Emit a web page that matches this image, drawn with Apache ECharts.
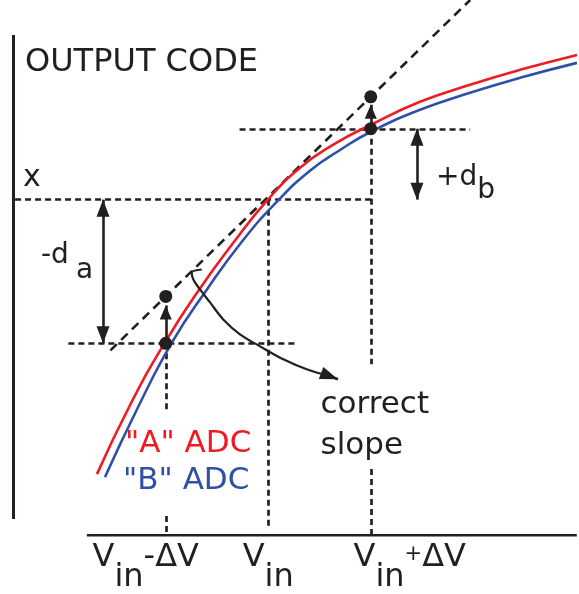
<!DOCTYPE html>
<html><head><meta charset="utf-8">
<script src="https://cdn.jsdelivr.net/npm/echarts@6/dist/echarts.min.js"></script>
<style>html,body{margin:0;padding:0;background:#fff}#c{width:579px;height:594px}</style>
</head><body><div id="c"></div>
<script>
// ---------- data (x in units of ΔV with Vin = 2.5, y in output-code units) ----------
const tickValues = [1.5, 2.5, 3.5];
const tickLabels = ['{v|V}{s|in}{v|-ΔV}', '{v|V}{s|in}', '{v|V}{s|in}{p|+}{v|ΔV}'];
const adcA = [[0.829,0.61],[1.151,1.30],[1.493,1.93],[1.834,2.47],[2.176,2.95],[2.488,3.35],[2.810,3.68],[3.151,3.92],[3.502,4.11],[3.980,4.34],[4.468,4.51],[4.956,4.66],[5.512,4.81]];
const adcB = [[0.907,0.58],[1.220,1.26],[1.561,1.93],[1.902,2.46],[2.244,2.94],[2.576,3.33],[2.907,3.65],[3.220,3.87],[3.502,4.04],[3.980,4.26],[4.468,4.43],[4.956,4.58],[5.512,4.73]];
const tangent = [[0.96,1.85],[4.47,5.36]];
const axisSegments = [[[0.01,0.16],[0.01,5.01]], [[0.73,0],[5.51,0]]];
const guideSegments = [
  [[0.03,3.36],[3.54,3.36]], [[0.55,1.92],[2.79,1.92]], [[2.22,4.07],[4.47,4.07]],
  [[1.5,1.92],[1.5,1.24]], [[1.5,0.19],[1.5,0]], [[2.5,3.36],[2.5,0.06]],
  [[3.5,4.07],[3.5,1.71]], [[3.5,0.66],[3.5,0]]
];
const dots = [[1.5,1.92],[1.5,2.39],[3.5,4.07],[3.5,4.39]];
const doubleArrows = [[[0.888,3.36],[0.888,1.92]], [[3.951,4.07],[3.951,3.36]]];
const upArrows = [[[1.5,1.92],[1.5,2.30]], [[3.5,4.07],[3.5,4.31]]];
const slopeCurve = [[1.851,2.66],[1.753,2.63],[1.769,2.56],[1.834,2.46],[1.932,2.33],[2.061,2.16],[2.224,2.01],[2.42,1.89],[2.647,1.76],[2.875,1.66],[3.102,1.59]];
const slopeHead = [[3.102,1.59],[3.18,1.56]];

// ---------- styling ----------
const BLACK = '#231F20', RED = '#ED1C24', BLUE = '#3050A8';
const FONT = '"DejaVu Sans", sans-serif';

function arrowItem(seg, both, size) {
  const end = (c, sym) => ({coord: c, symbol: sym, symbolSize: size, symbolOffset: [0, '50%'], symbolRotate: null});
  return [end(seg[0], both ? 'triangle' : 'none'), end(seg[1], 'triangle')];
}

const chart = echarts.init(document.getElementById('c'), null, {renderer: 'canvas'});
chart.setOption({
  animation: false,
  backgroundColor: '#fff',
  grid: {left: 12, top: 0, width: 565.8, height: 536},
  xAxis: {
    type: 'value', min: 0, max: 5.52, interval: 0.5,
    axisLine: {show: false}, axisTick: {show: false}, splitLine: {show: false},
    axisLabel: {
      show: true, margin: 7, showMinLabel: true, showMaxLabel: false,
      formatter: function (v) {
        const i = tickValues.findIndex(t => Math.abs(t - v) < 1e-6);
        if (i < 0) return '';
        let s = tickLabels[i];
        if (i === 0) s = s + '{gr| }';
        if (i === 2) s = '{gl| }' + s;
        return s;
      },
      rich: {
        v: {fontSize: 32, fontFamily: FONT, color: BLACK, lineHeight: 32, verticalAlign: 'top'},
        s: {fontSize: 32, fontFamily: FONT, color: BLACK, lineHeight: 32, verticalAlign: 'top', padding: [20, 0, 0, 0]},
        p: {fontSize: 21, fontFamily: FONT, color: BLACK, lineHeight: 21, verticalAlign: 'top', padding: [2, 0, 0, 0]},
        gr: {width: 40, fontSize: 10, verticalAlign: 'top'},
        gl: {width: 78, fontSize: 10, verticalAlign: 'top'}
      }
    }
  },
  yAxis: {type: 'value', min: 0, max: 5.36, show: false},
  series: [
    {type: 'lines', coordinateSystem: 'cartesian2d', silent: true, z: 2,
     lineStyle: {color: BLACK, width: 2.7, type: [6, 4], opacity: 1, curveness: 0},
     data: guideSegments.map(s => ({coords: s}))},
    {type: 'line', silent: true, z: 2, showSymbol: false, symbol: 'none', clip: false,
     lineStyle: {color: BLACK, width: 2.6, type: [9, 6]}, data: tangent},
    {type: 'lines', coordinateSystem: 'cartesian2d', silent: true, z: 3,
     lineStyle: {color: BLACK, width: 3, type: 'solid', opacity: 1, curveness: 0},
     data: axisSegments.map(s => ({coords: s}))},
    {type: 'line', name: '"A" ADC', silent: true, z: 4, showSymbol: false, symbol: 'none', clip: false,
     smooth: 0.5, lineStyle: {color: RED, width: 2.6}, data: adcA},
    {type: 'line', name: '"B" ADC', silent: true, z: 4, showSymbol: false, symbol: 'none', clip: false,
     smooth: 0.5, lineStyle: {color: BLUE, width: 2.6}, data: adcB},
    {type: 'line', silent: true, z: 5, showSymbol: false, symbol: 'none', clip: false,
     smooth: 0.35, lineStyle: {color: BLACK, width: 2.2}, data: slopeCurve},
    {type: 'scatter', silent: true, z: 6, symbol: 'circle', symbolSize: 13,
     itemStyle: {color: BLACK, opacity: 1}, data: dots,
     markLine: {
       silent: true, animation: false, symbol: ['none', 'none'],
       label: {show: false}, emphasis: {disabled: true},
       lineStyle: {type: 'solid', color: BLACK, width: 2.6, opacity: 1},
       data: [
         ...doubleArrows.map(s => arrowItem(s, true, [13, 17])),
         ...upArrows.map(s => arrowItem(s, false, [12, 14])),
         arrowItem(slopeHead, false, [13, 18])
       ]
     }}
  ],
  graphic: [
    {type: 'text', x: 25, y: 47, silent: true, style: {text: 'OUTPUT CODE', fontSize: 32, fontFamily: FONT, fill: BLACK, verticalAlign: 'top'}},
    {type: 'text', x: 23, y: 163, silent: true, style: {text: 'x', fontSize: 30, fontFamily: FONT, fill: BLACK, verticalAlign: 'top'}},
    {type: 'text', x: 41, y: 242, silent: true, style: {
      text: '{m|-d}{s|a}', verticalAlign: 'top', fill: BLACK,
      rich: {m: {fontSize: 28, fontFamily: FONT, lineHeight: 28, verticalAlign: 'top', fill: BLACK},
             s: {fontSize: 28, fontFamily: FONT, lineHeight: 28, verticalAlign: 'top', fill: BLACK, padding: [15, 0, 0, 7]}}}},
    {type: 'text', x: 436, y: 164, silent: true, style: {
      text: '{m|+d}{s|b}', verticalAlign: 'top', fill: BLACK,
      rich: {m: {fontSize: 28, fontFamily: FONT, lineHeight: 28, verticalAlign: 'top', fill: BLACK},
             s: {fontSize: 28, fontFamily: FONT, lineHeight: 28, verticalAlign: 'top', fill: BLACK, padding: [13, 0, 0, 0]}}}},
    {type: 'text', x: 320.5, y: 384, silent: true, style: {text: 'correct\nslope', fontSize: 31, lineHeight: 41, fontFamily: FONT, fill: BLACK, verticalAlign: 'top'}},
    {type: 'text', x: 125, y: 428, silent: true, style: {text: '"A" ADC', fontSize: 31, fontFamily: FONT, fill: RED, verticalAlign: 'top'}},
    {type: 'text', x: 123, y: 465, silent: true, style: {text: '"B" ADC', fontSize: 31, fontFamily: FONT, fill: BLUE, verticalAlign: 'top'}}
  ]
});
</script></body></html>
